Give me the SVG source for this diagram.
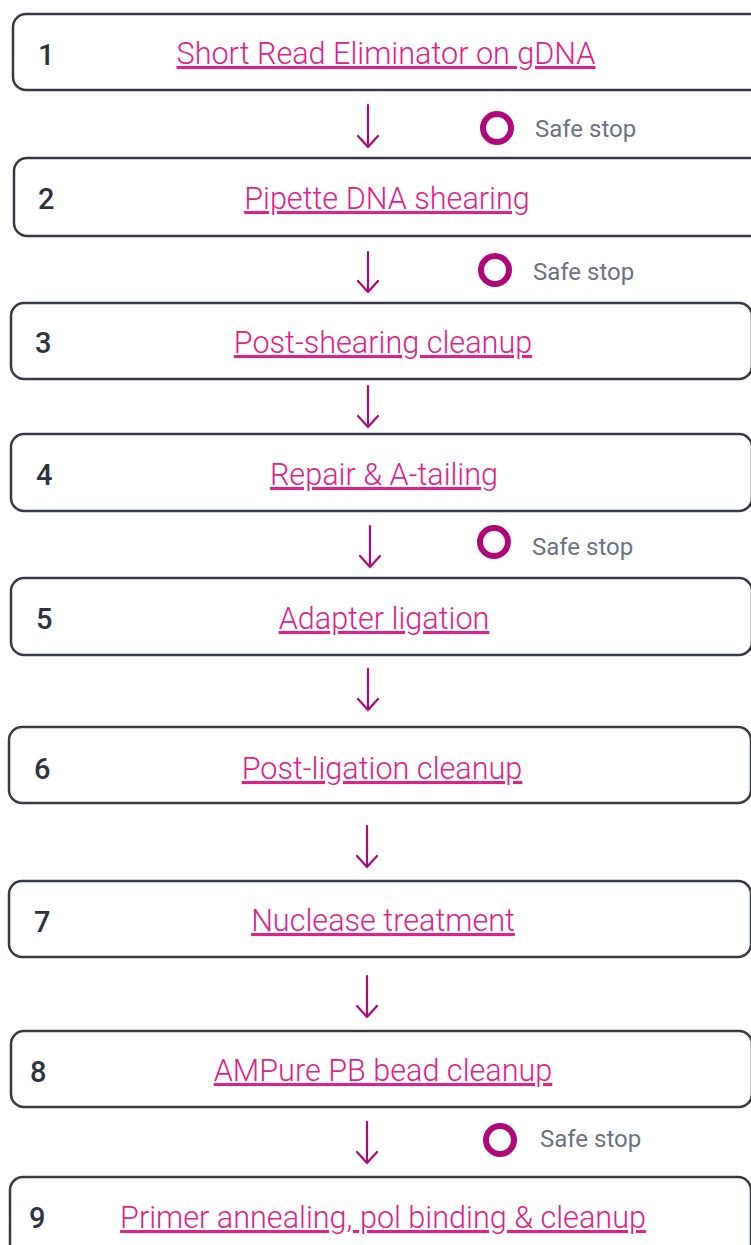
<svg xmlns="http://www.w3.org/2000/svg" width="751" height="1245" viewBox="0 0 751 1245">
  <style>
    .box { fill: #ffffff; stroke: #363a47; stroke-width: 2.5; }
    .num { font-family: Roboto, "Liberation Sans", sans-serif; font-weight: 500; font-size: 29px; fill: #2e3340; }
    .lbl { font-family: Roboto, "Liberation Sans", sans-serif; font-weight: 300; font-size: 30.6px; fill: #e0218a; text-anchor: middle; text-decoration: underline; }
    .arrow { fill: none; stroke: #b0087a; stroke-width: 2.2; stroke-linecap: round; stroke-linejoin: round; }
    .stop-dot { fill: none; stroke: #b0087a; stroke-width: 6; }
    .stop-txt { font-family: Roboto, "Liberation Sans", sans-serif; font-size: 24px; fill: #6b7383; }
  </style>

  <rect width="751" height="1245" fill="#ffffff"/>

  <!-- workflow steps -->
  <g id="step1"><rect class="box" x="13" y="14" width="760" height="76" rx="13"/><text class="num" x="38" y="65">1</text><text class="lbl" x="386" y="64">Short Read Eliminator on gDNA</text></g>
  <g id="step2"><rect class="box" x="14" y="158" width="760" height="78" rx="13"/><text class="num" x="38" y="209">2</text><text class="lbl" x="387" y="209">Pipette DNA shearing</text></g>
  <g id="step3"><rect class="box" x="11" y="303" width="741" height="76" rx="13"/><text class="num" x="35" y="353">3</text><text class="lbl" x="383" y="353">Post-shearing cleanup</text></g>
  <g id="step4"><rect class="box" x="11" y="434" width="741" height="77" rx="13"/><text class="num" x="36" y="485">4</text><text class="lbl" x="384" y="485">Repair &amp; A-tailing</text></g>
  <g id="step5"><rect class="box" x="11" y="578" width="741" height="77" rx="13"/><text class="num" x="36" y="629">5</text><text class="lbl" x="384" y="629">Adapter ligation</text></g>
  <g id="step6"><rect class="box" x="9" y="727" width="742" height="76" rx="13"/><text class="num" x="34" y="779">6</text><text class="lbl" x="382" y="779">Post-ligation cleanup</text></g>
  <g id="step7"><rect class="box" x="9" y="881" width="742" height="76" rx="13"/><text class="num" x="34" y="932">7</text><text class="lbl" x="383" y="931">Nuclease treatment</text></g>
  <g id="step8"><rect class="box" x="11" y="1031" width="741" height="76" rx="13"/><text class="num" x="30" y="1082">8</text><text class="lbl" x="383" y="1081">AMPure PB bead cleanup</text></g>
  <g id="step9"><rect class="box" x="10" y="1177" width="741" height="100" rx="13"/><text class="num" x="29" y="1228">9</text><text class="lbl" x="383" y="1228">Primer annealing, pol binding &amp; cleanup</text></g>

  <!-- connectors between steps -->
  <g id="connectors">
    <path class="arrow" d="M368 105 V147 M358 136 L368 147 L378 136"/>
    <path class="arrow" d="M368 252 V292 M358 281 L368 292 L378 281"/>
    <path class="arrow" d="M368 386 V427 M358 416 L368 427 L378 416"/>
    <path class="arrow" d="M370 526 V567 M360 556 L370 567 L380 556"/>
    <path class="arrow" d="M368 669 V710 M358 699 L368 710 L378 699"/>
    <path class="arrow" d="M367 826 V867 M357 856 L367 867 L377 856"/>
    <path class="arrow" d="M367 976 V1017 M357 1006 L367 1017 L377 1006"/>
    <path class="arrow" d="M367 1122 V1163 M357 1152 L367 1163 L377 1152"/>
  </g>

  <!-- safe stopping points -->
  <g id="safe-stop-1"><circle class="stop-dot" cx="497" cy="128" r="14"/><text class="stop-txt" x="535" y="137">Safe stop</text></g>
  <g id="safe-stop-2"><circle class="stop-dot" cx="495" cy="270" r="14"/><text class="stop-txt" x="533" y="280">Safe stop</text></g>
  <g id="safe-stop-3"><circle class="stop-dot" cx="494" cy="542" r="14"/><text class="stop-txt" x="532" y="555">Safe stop</text></g>
  <g id="safe-stop-4"><circle class="stop-dot" cx="500" cy="1140" r="14"/><text class="stop-txt" x="540" y="1147">Safe stop</text></g>
</svg>
